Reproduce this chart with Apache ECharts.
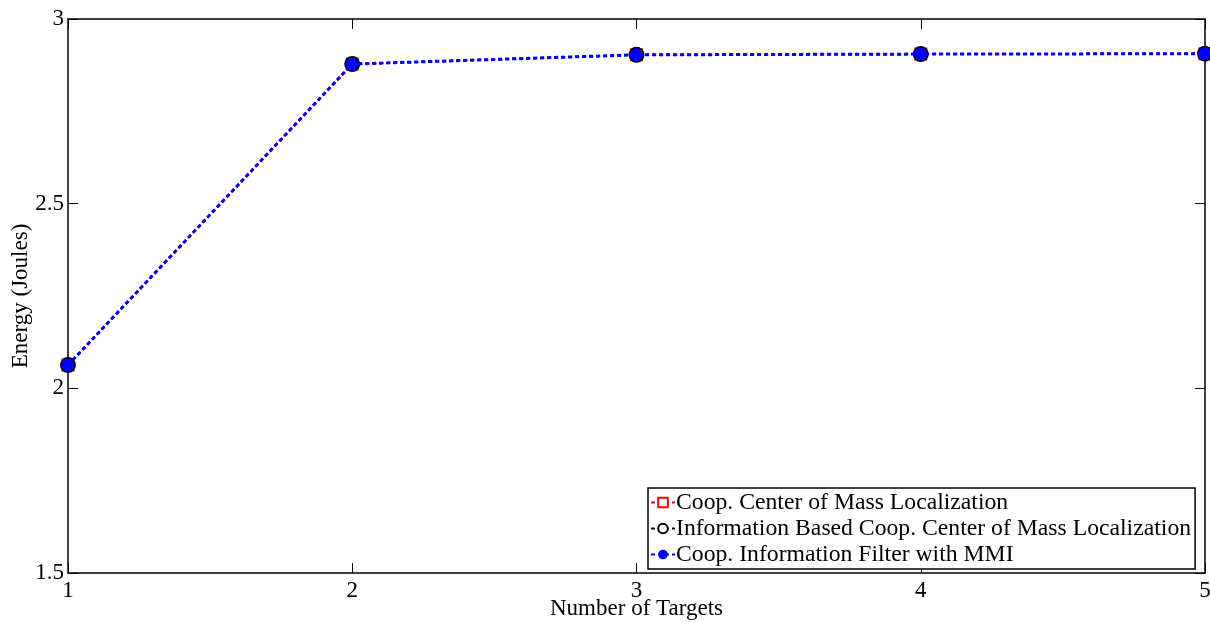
<!DOCTYPE html>
<html>
<head>
<meta charset="utf-8">
<script src="https://cdn.jsdelivr.net/npm/echarts@6/dist/echarts.min.js"></script>
<style>
html,body{margin:0;padding:0;background:#fff;}
#c{width:1210px;height:623px;}
</style>
</head>
<body>
<div id="c"></div>
<script>
const targets = [1, 2, 3, 4, 5];
const coopCOM = [2.063, 2.878, 2.903, 2.905, 2.906];
const infoCOM = [2.063, 2.878, 2.903, 2.905, 2.906];
const coopIF = [2.063, 2.878, 2.903, 2.905, 2.906];
const seriesNames = ['Coop. Center of Mass Localization', 'Information Based Coop. Center of Mass Localization', 'Coop. Information Filter with MMI'];
const yTicks = [1.5, 2, 2.5, 3];

const FONT = 'Liberation Serif';
const pairs = arr => targets.map((t, i) => [t, arr[i]]);

const chart = echarts.init(document.getElementById('c'), null, {renderer: 'canvas'});
const axisCommon = {
  axisLine: {show: true, onZero: false, lineStyle: {color: '#000', width: 1.5}},
  axisTick: {show: true, inside: true, length: 10, lineStyle: {color: '#000', width: 1}},
  splitLine: {show: false}
};
const dash = [4, 3];
chart.setOption({
  animation: false,
  backgroundColor: '#fff',
  grid: {left: 68, right: 5, top: 19, bottom: 50, containLabel: false, outerBoundsMode: 'none'},
  xAxis: [
    Object.assign({
      type: 'value', min: 1, max: 5, interval: 1, position: 'bottom',
      name: 'Number of Targets', nameLocation: 'middle', nameGap: 24, nameMoveOverlap: false,
      nameTextStyle: {fontFamily: FONT, fontSize: 23, color: '#000'},
      axisLabel: {fontFamily: FONT, fontSize: 23, color: '#000', margin: 6}
    }, axisCommon),
    Object.assign({
      type: 'value', min: 1, max: 5, interval: 1, position: 'top',
      axisLabel: {show: false}
    }, axisCommon)
  ],
  yAxis: [
    Object.assign({
      type: 'value', min: 1.5, max: 3, interval: 0.5, position: 'left',
      name: 'Energy (Joules)', nameLocation: 'middle', nameGap: 36, nameMoveOverlap: false,
      nameTextStyle: {fontFamily: FONT, fontSize: 23, color: '#000'},
      axisLabel: {fontFamily: FONT, fontSize: 23, color: '#000', margin: 4,
        formatter: v => yTicks.includes(v) ? String(v) : ''}
    }, axisCommon),
    Object.assign({
      type: 'value', min: 1.5, max: 3, interval: 0.5, position: 'right',
      axisLabel: {show: false}
    }, axisCommon)
  ],
  legend: {
    orient: 'vertical', left: 648, top: 488,
    backgroundColor: '#fff', borderColor: '#000', borderWidth: 1.5,
    padding: [2, 4, 2, 2], itemGap: 1, itemWidth: 24, itemHeight: 12,
    textStyle: {fontFamily: FONT, fontSize: 23.7, color: '#000', lineHeight: 25, padding: [0, 0, 0, -4]},
    data: seriesNames
  },
  series: [
    {
      name: seriesNames[0], type: 'line', data: pairs(coopCOM),
      symbol: 'rect', symbolSize: 11,
      itemStyle: {color: '#fff', borderColor: '#ff0000', borderWidth: 2},
      lineStyle: {color: '#ff0000', width: 2, type: dash},
      color: '#ff0000', z: 2
    },
    {
      name: seriesNames[1], type: 'line', data: pairs(infoCOM),
      symbol: 'circle', symbolSize: 14,
      itemStyle: {color: '#fff', borderColor: '#000', borderWidth: 2},
      lineStyle: {color: '#000', width: 2, type: dash},
      color: '#000', z: 3
    },
    {
      name: seriesNames[2], type: 'line', data: pairs(coopIF),
      symbol: 'circle', symbolSize: 13,
      itemStyle: {color: '#0000ff', borderColor: '#0000ff', borderWidth: 0},
      lineStyle: {color: '#0000ff', width: 3, type: dash},
      color: '#0000ff', z: 4
    }
  ]
});
</script>
</body>
</html>
